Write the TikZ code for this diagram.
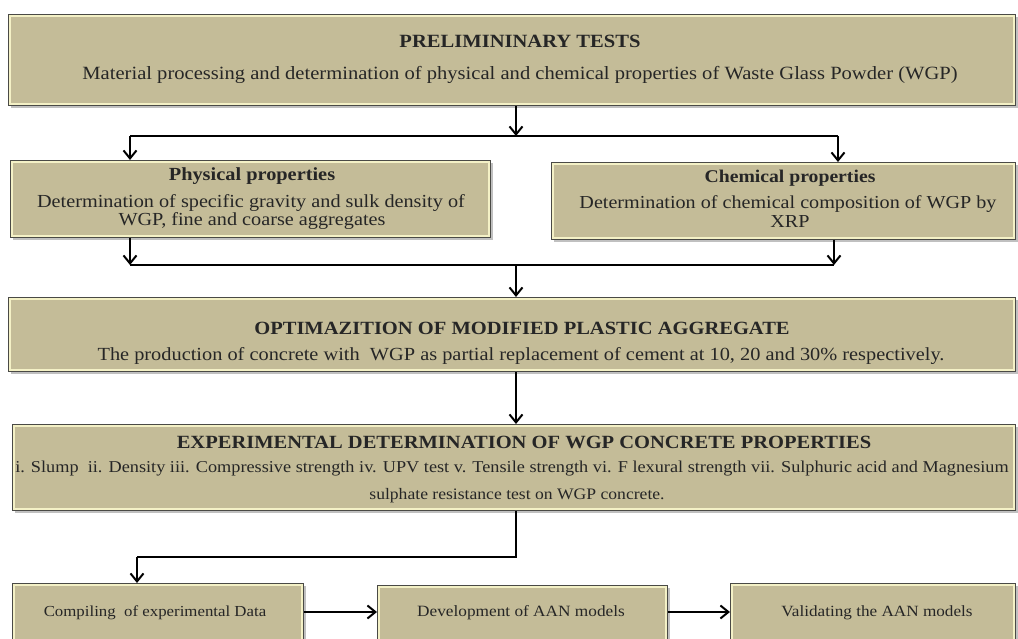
\documentclass[tikz,border=0pt]{standalone}
\usepackage{fontspec}
\setmainfont[FakeStretch=1.1]{Liberation Serif}
\usetikzlibrary{arrows.meta,shadows}
\definecolor{boxfill}{HTML}{C4BC98}
\definecolor{boxline}{HTML}{4A4A46}
\definecolor{cream}{HTML}{F4F1C6}
\newcommand{\fs}[1]{\fontsize{#1}{#1}\selectfont}
\newcommand{\innerframe}[1]{\draw[cream,line width=1.6pt] ([shift={(2.2pt,-2.2pt)}]#1.north west) rectangle ([shift={(-2.2pt,2.2pt)}]#1.south east);}
\tikzset{
  box/.style={draw=boxline, line width=1pt, fill=boxfill, anchor=north west, inner sep=0pt,
    drop shadow={shadow xshift=2pt, shadow yshift=-2.5pt, fill=black!45, opacity=0.55}},
  txt/.style={inner sep=0pt, text=black!85},
  conn/.style={line width=2pt, black},
  arr/.style={conn, -{Straight Barb[length=8pt,width=13pt,line width=2pt]}},
}
\begin{document}
\begin{tikzpicture}[x=1pt,y=-1pt]
\useasboundingbox (0,0) rectangle (1018,639);
% boxes
\node[box, minimum width=1007pt, minimum height=91pt] (pre) at (8,14) {};
\innerframe{pre}
\node[box, minimum width=480pt, minimum height=77pt] (phy) at (10,160) {};
\innerframe{phy}
\node[box, minimum width=464pt, minimum height=77pt] (che) at (551,162) {};
\innerframe{che}
\node[box, minimum width=1007pt, minimum height=74pt] (opt) at (8,297) {};
\innerframe{opt}
\node[box, minimum width=1003pt, minimum height=86pt] (exp) at (12,424) {};
\innerframe{exp}
\node[box, minimum width=291pt, minimum height=70pt] (com) at (12,583) {};
\innerframe{com}
\node[box, minimum width=290pt, minimum height=70pt] (dev) at (377,585) {};
\innerframe{dev}
\node[box, minimum width=285pt, minimum height=70pt] (val) at (730,583) {};
\innerframe{val}
% texts
\node[txt, font=\fs{18.7}\bfseries] (preT) at (520,41) {PRELIMININARY TESTS};
\node[txt, font=\fs{18.7}] (preS) at (520,75) {Material processing and determination of physical and chemical properties of Waste Glass Powder (WGP)};
\node[txt, font=\fs{18.5}\bfseries] (phyT) at (252,176) {Physical properties};
\node[txt, font=\fs{18.4}] (phy1) at (251,203) {Determination of specific gravity and sulk density of};
\node[txt, font=\fs{18.4}] (phy2) at (252,221) {WGP, fine and coarse aggregates};
\node[txt, font=\fs{17.9}\bfseries] (cheT) at (790,178) {Chemical properties};
\node[txt, font=\fs{18.3}] (che1) at (788,204) {Determination of chemical composition of WGP by};
\node[txt, font=\fs{18.3}] (che2) at (790,222) {XRP};
\node[txt, font=\fs{18.65}\bfseries] (optT) at (522,328) {OPTIMAZITION OF MODIFIED PLASTIC AGGREGATE};
\node[txt, font=\fs{18.5}] (optS) at (521,356) {The production of concrete with\ \ WGP as partial replacement of cement at 10, 20 and 30\% respectively.};
\node[txt, font=\fs{18.65}\bfseries] (expT) at (524,442) {EXPERIMENTAL DETERMINATION OF WGP CONCRETE PROPERTIES};
\node[txt, font=\fs{16.6}] (exp1) at (512,469) {i. Slump\ \ ii. Density iii. Compressive strength iv. UPV test v. Tensile strength vi. F lexural strength vii. Sulphuric acid and Magnesium};
\node[txt, font=\fs{16}] (exp2) at (517,496) {sulphate resistance test on WGP concrete.};
\node[txt, font=\fs{15.3}] (comT) at (155,613) {Compiling\ \ of experimental Data};
\node[txt, font=\fs{15.7}] (devT) at (521,613) {Development of AAN models};
\node[txt, font=\fs{15.6}] (valT) at (877,613) {Validating the AAN models};
% connectors
\coordinate (j1) at (516,136);
\coordinate (j1l) at (130,136);
\coordinate (j1r) at (838,136);
\draw[arr] (pre.south -| j1) -- (j1);
\draw[conn] (j1l) -- (j1r);
\draw[arr] (j1l) -- (phy.north -| j1l);
\draw[arr] (j1r) -- (che.north -| j1r);
\coordinate (j2l) at (130,265);
\coordinate (j2r) at (834,265);
\coordinate (j2) at (516,265);
\draw[arr] (phy.south -| j2l) -- (j2l);
\draw[arr] (che.south -| j2r) -- (j2r);
\draw[conn] (j2l) -- (j2r);
\draw[arr] (j2) -- (opt.north -| j2);
\draw[arr] (opt.south -| j2) -- (exp.north -| j2);
\coordinate (j3) at (516,557);
\coordinate (j3l) at (137,557);
\draw[conn] (exp.south -| j3) -- (j3) -- (j3l);
\draw[arr] (j3l) -- (com.north -| j3l);
\draw[arr] (com.east |- 0,612) -- (dev.west |- 0,612);
\draw[arr] (dev.east |- 0,612) -- (val.west |- 0,612);
\end{tikzpicture}
\end{document}
